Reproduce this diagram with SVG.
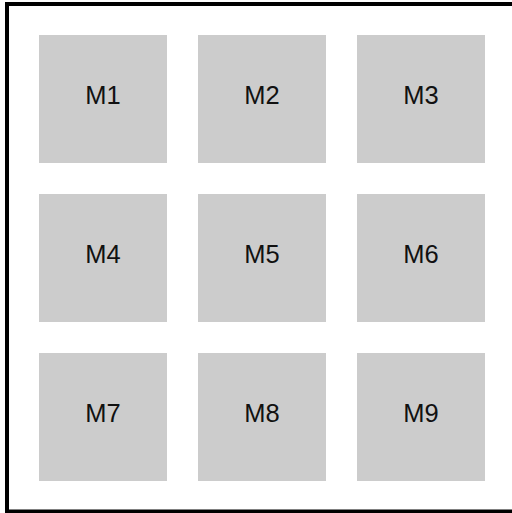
<svg xmlns="http://www.w3.org/2000/svg" width="512" height="513" viewBox="0 0 512 513">
<style>
.box{fill:#cccccc}
.lbl{font-family:"Liberation Sans",Arial,sans-serif;font-size:25.5px;fill:#111;text-anchor:middle}
</style>
<rect x="0" y="0" width="512" height="513" fill="#fff"/>
<rect x="7" y="4" width="510" height="507.5" fill="none" stroke="#000" stroke-width="4"/>
<g id="M1"><rect class="box" x="39" y="35" width="128" height="128"/><text class="lbl" x="103" y="104">M1</text></g>
<g id="M2"><rect class="box" x="198" y="35" width="128" height="128"/><text class="lbl" x="262" y="104">M2</text></g>
<g id="M3"><rect class="box" x="357" y="35" width="128" height="128"/><text class="lbl" x="421" y="104">M3</text></g>
<g id="M4"><rect class="box" x="39" y="194" width="128" height="128"/><text class="lbl" x="103" y="263">M4</text></g>
<g id="M5"><rect class="box" x="198" y="194" width="128" height="128"/><text class="lbl" x="262" y="263">M5</text></g>
<g id="M6"><rect class="box" x="357" y="194" width="128" height="128"/><text class="lbl" x="421" y="263">M6</text></g>
<g id="M7"><rect class="box" x="39" y="353" width="128" height="128"/><text class="lbl" x="103" y="422">M7</text></g>
<g id="M8"><rect class="box" x="198" y="353" width="128" height="128"/><text class="lbl" x="262" y="422">M8</text></g>
<g id="M9"><rect class="box" x="357" y="353" width="128" height="128"/><text class="lbl" x="421" y="422">M9</text></g>
<g id="connectors"></g>
</svg>
